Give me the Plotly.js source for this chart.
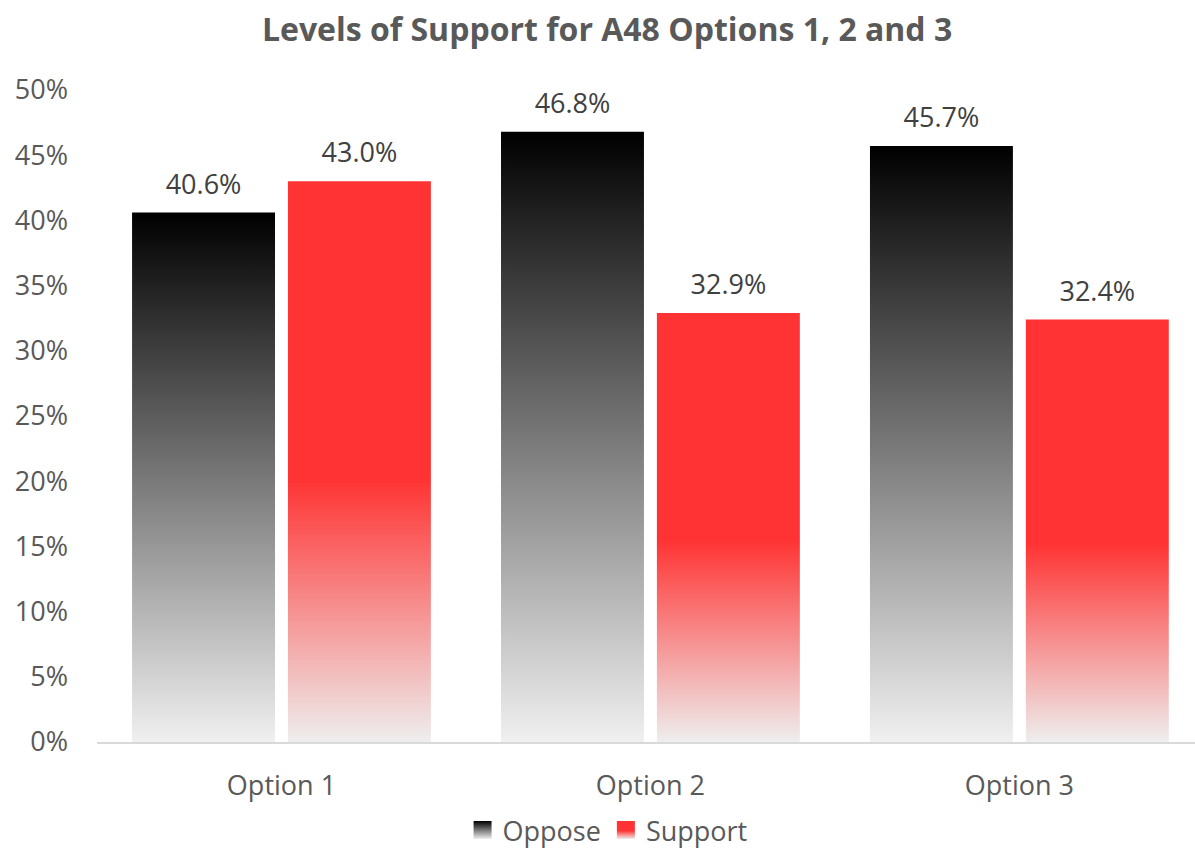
<!DOCTYPE html>
<html>
<head>
<meta charset="utf-8">
<script src="https://cdn.plot.ly/plotly-3.0.1.min.js"></script>
<style>
html,body{margin:0;padding:0;background:#fff;}
#chart{width:1195px;height:851px;}
</style>
</head>
<body>
<svg width="0" height="0" style="position:absolute">
  <defs>
    <linearGradient id="gradOppose" x1="0" y1="0" x2="0" y2="1">
      <stop offset="0" stop-color="#000000"/>
      <stop offset="1" stop-color="#f0f0f0"/>
    </linearGradient>
    <linearGradient id="gradSupport" x1="0" y1="0" x2="0" y2="1">
      <stop offset="0" stop-color="#ff3333"/>
      <stop offset="0.53" stop-color="#ff3333"/>
      <stop offset="1" stop-color="#eeeeee"/>
    </linearGradient>
  </defs>
</svg>
<div id="chart"></div>
<script>
const categories = ["Option 1", "Option 2", "Option 3"];
const opposeValues = [40.6, 46.8, 45.7];
const supportValues = [43.0, 32.9, 32.4];
const seriesNames = ["Oppose", "Support"];
const yTickValues = [0, 5, 10, 15, 20, 25, 30, 35, 40, 45, 50];
const yTickLabels = ["0%", "5%", "10%", "15%", "20%", "25%", "30%", "35%", "40%", "45%", "50%"];

const FONT = "Open Sans, Noto Sans, sans-serif";

const traces = [
  {
    type: "bar", name: seriesNames[0], x: categories, y: opposeValues,
    marker: {color: "#555555", line: {width: 0}},
    texttemplate: "%{y:.1f}%", textposition: "outside", cliponaxis: false,
    textfont: {family: FONT, size: 27, color: "#404040"},
    hoverinfo: "none"
  },
  {
    type: "bar", name: seriesNames[1], x: categories, y: supportValues,
    marker: {color: "#ff3333", line: {width: 0}},
    texttemplate: "%{y:.1f}%", textposition: "outside", cliponaxis: false,
    textfont: {family: FONT, size: 27, color: "#404040"},
    hoverinfo: "none"
  }
];

const layout = {
  width: 1195, height: 851,
  paper_bgcolor: "#ffffff", plot_bgcolor: "#ffffff",
  margin: {l: 97, r: 0, t: 90, b: 109, pad: 0},
  font: {family: FONT, color: "#595959", size: 27},
  title: {
    text: "<b>Levels of Support for A48 Options 1, 2 and 3</b>",
    font: {family: FONT, size: 32, color: "#595959"},
    x: 0.508, xanchor: "center", y: 0.965, yanchor: "middle"
  },
  barmode: "group", bargap: 0.155, bargroupgap: 0.083,
  xaxis: {
    type: "category", range: [-0.5, 2.476],
    showgrid: false, zeroline: false,
    showline: true, linecolor: "#d9d9d9", linewidth: 2,
    ticks: "", ticklabelstandoff: 19,
    tickfont: {family: FONT, size: 27, color: "#595959"},
    fixedrange: true
  },
  yaxis: {
    range: [0, 50], tickvals: yTickValues, ticktext: yTickLabels,
    showgrid: false, zeroline: false, showline: false,
    ticks: "", ticklabelstandoff: 28,
    tickfont: {family: FONT, size: 27, color: "#595959"},
    fixedrange: true
  },
  showlegend: true,
  legend: {
    orientation: "h", x: 0.465, xanchor: "center", y: -0.1672, yanchor: "bottom",
    font: {family: FONT, size: 27, color: "#595959"},
    itemwidth: 30, tracegroupgap: 0
  }
};

Plotly.newPlot("chart", traces, layout, {displayModeBar: false, staticPlot: true}).then(function (gd) {
  const grads = ["url(#gradOppose)", "url(#gradSupport)"];
  const barTraces = gd.querySelectorAll(".barlayer .trace");
  barTraces.forEach(function (t, i) {
    t.querySelectorAll("path").forEach(function (p) { p.style.fill = grads[i]; });
    t.querySelectorAll("text").forEach(function (tx) {
      const tr = tx.getAttribute("transform") || "";
      tx.setAttribute("transform", "translate(0,-8) " + tr);
    });
  });
  const legendTraces = gd.querySelectorAll(".legend .traces");
  legendTraces.forEach(function (t, i) {
    t.querySelectorAll(".legendpoints path").forEach(function (p) {
      p.style.fill = grads[i];
      const tr = p.getAttribute("transform") || "";
      p.setAttribute("transform", tr + " scale(1.5)");
    });
  });
  const leg = gd.querySelector(".legend");
  if (leg) {
    const tr = leg.getAttribute("transform") || "";
    leg.setAttribute("transform", tr + " translate(0,4)");
  }
});
</script>
</body>
</html>
